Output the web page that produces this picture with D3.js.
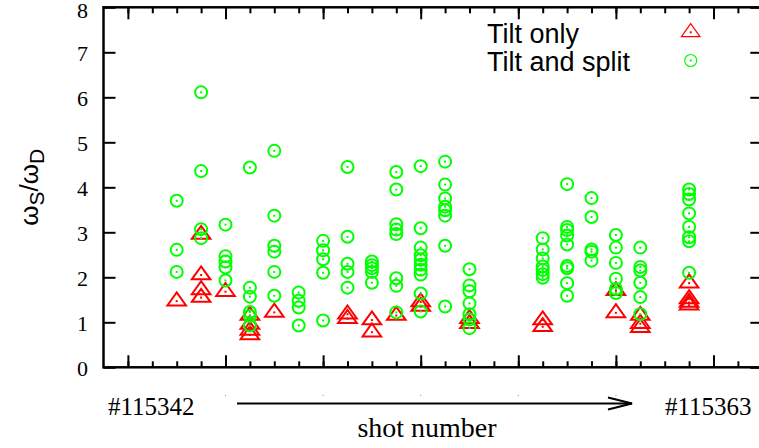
<!DOCTYPE html>
<html>
<head>
<meta charset="utf-8">
<script src="https://cdn.jsdelivr.net/npm/d3@7"></script>
<style>
  body { margin: 0; background: #fff; }
  svg { display: block; }
</style>
</head>
<body>
<svg width="759" height="448"></svg>
<script>
// Shots that have data, and the measured frequency ratios for each one
const shots = [115342, 115343, 115344, 115345, 115346, 115347, 115348, 115349, 115350,
  115351, 115352, 115353, 115354, 115357, 115358, 115359, 115360, 115361, 115363];

const tiltOnly = [
  [1.47], [2.95, 2.05, 1.72, 1.55], [1.68], [1.15, 0.95, 0.82, 0.72], [1.22], [], [],
  [1.18, 1.08], [1.05, 0.78], [1.15], [1.45, 1.35], [], [1.08, 0.97],
  [1.05, 0.9], [], [], [1.7, 1.21], [1.15, 0.97, 0.88], [1.87, 1.52, 1.44, 1.38]
];

const tiltSplit = [
  [3.70, 2.61, 2.12],
  [6.11, 4.36, 3.07, 2.87],
  [3.17, 2.47, 2.35, 2.22, 1.93],
  [4.44, 1.77, 1.57, 1.23, 1.14, 0.93],
  [4.81, 3.37, 2.70, 2.57, 2.12, 1.59],
  [1.66, 1.48, 1.33, 0.93],
  [2.81, 2.60, 2.40, 2.10, 1.04],
  [4.45, 2.90, 2.30, 2.12, 1.77],
  [2.35, 2.27, 2.20, 2.12, 1.88],
  [4.34, 3.95, 3.18, 3.06, 2.96, 1.98, 1.81, 1.22],
  [4.47, 3.09, 2.66, 2.49, 2.39, 2.28, 2.17, 2.06, 1.64, 1.24],
  [4.57, 4.06, 3.75, 3.57, 3.49, 3.37, 2.70, 1.35],
  [2.18, 1.82, 1.69, 1.42, 1.18, 1.06, 0.87],
  [2.87, 2.62, 2.42, 2.24, 2.16, 2.07, 1.99],
  [4.07, 3.12, 3.05, 2.93, 2.73, 2.25, 2.20, 1.87, 1.59],
  [3.76, 3.34, 2.62, 2.57, 2.37],
  [2.94, 2.66, 2.32, 1.97, 1.74, 1.65],
  [2.66, 2.23, 2.15, 1.88, 1.56, 1.18],
  [3.95, 3.85, 3.73, 3.42, 3.12, 2.89, 2.80, 2.10]
];

const yTicks = [0, 1, 2, 3, 4, 5, 6, 7, 8];
const seriesNames = ["Tilt only", "Tilt and split"];
const firstLabel = "#115342";
const lastLabel = "#115363";

// Layout
const svg = d3.select("svg");
const margin = { top: 7.3, left: 103.5 };
const width = 658.8;   // right border falls just outside the window
const height = 360;

const g = svg.append("g").attr("transform", `translate(${margin.left},${margin.top})`);

// x runs 3 shots before the first one to 3 after the last
const x = d3.scaleLinear().domain([115339, 115366]).range([0, width]);
const y = d3.scaleLinear().domain([0, 8]).range([height, 0]);

const minorTicks = d3.range(115340, 115366);
const majorTicks = d3.range(115340, 115366, 4);

const serif = "'Liberation Serif', 'Times New Roman', serif";
const sans = "'Liberation Sans', Arial, sans-serif";

// Ticks pointing inwards on all four sides
function styleAxis(sel) {
  sel.select(".domain").remove();
  sel.selectAll(".tick line").attr("stroke", "#000").attr("stroke-width", 2);
}

g.append("g").attr("transform", `translate(0,${height})`)
  .call(d3.axisBottom(x).tickValues(minorTicks).tickSize(-6).tickFormat(""))
  .call(styleAxis);
g.append("g").attr("transform", `translate(0,${height})`)
  .call(d3.axisBottom(x).tickValues(majorTicks).tickSize(-12).tickFormat(""))
  .call(styleAxis);
g.append("g")
  .call(d3.axisTop(x).tickValues(minorTicks).tickSize(-6).tickFormat(""))
  .call(styleAxis);
g.append("g")
  .call(d3.axisTop(x).tickValues(majorTicks).tickSize(-12).tickFormat(""))
  .call(styleAxis);
g.append("g").attr("transform", `translate(${width},0)`)
  .call(d3.axisRight(y).tickValues(yTicks).tickSize(-12).tickFormat(""))
  .call(styleAxis);

const yAxis = g.append("g")
  .call(d3.axisLeft(y).tickValues(yTicks).tickSize(-12).tickPadding(15.5).tickFormat(d3.format("d")))
  .call(styleAxis);
yAxis.selectAll(".tick text")
  .attr("dy", d => d === 8 ? "0.46em" : "0.38em")   // keep the top label inside the window
  .style("font-family", serif)
  .style("font-size", "22px")
  .attr("fill", "#000");

// Border
g.append("rect")
  .attr("width", width).attr("height", height)
  .attr("fill", "none").attr("stroke", "#000").attr("stroke-width", 2.5);

// Faint dots left under the middle major ticks
g.selectAll(".tickdot")
  .data(majorTicks.slice(1, -1))
  .enter().append("rect")
  .attr("class", "tickdot")
  .attr("x", d => x(d) - 0.5).attr("y", height + 27.5)
  .attr("width", 1).attr("height", 1).attr("fill", "#888");

// Flatten data into points
const triPts = [], circPts = [];
shots.forEach((s, k) => {
  tiltOnly[k].forEach(v => triPts.push({ shot: s, v }));
  tiltSplit[k].forEach(v => circPts.push({ shot: s, v }));
});

const triPath = "M0,-8.7L9.3,4.3L-9.3,4.3Z";
const red = "#ff0000", green = "#00ff00";

function drawTriangle(sel, sw) {
  sel.append("path").attr("d", triPath)
    .attr("fill", "none").attr("stroke", red).attr("stroke-width", sw);
  sel.append("rect").attr("x", -1).attr("y", -1).attr("width", 2).attr("height", 2).attr("fill", red);
}
function drawCircle(sel, sw) {
  sel.append("circle").attr("r", 6)
    .attr("fill", "none").attr("stroke", green).attr("stroke-width", sw);
  sel.append("rect").attr("x", -1).attr("y", -1).attr("width", 2).attr("height", 2).attr("fill", green);
}

g.selectAll(".tri").data(triPts).enter().append("g")
  .attr("class", "tri")
  .attr("transform", d => `translate(${x(d.shot)},${y(d.v)})`)
  .call(drawTriangle, 2);

g.selectAll(".circ").data(circPts).enter().append("g")
  .attr("class", "circ")
  .attr("transform", d => `translate(${x(d.shot)},${y(d.v)})`)
  .call(drawCircle, 2);

// Legend
const legend = svg.append("g");
seriesNames.forEach((name, k) => {
  const ly = 33 + k * 27.5;
  legend.append("text")
    .attr("x", 487).attr("y", ly + 10.3)
    .style("font-family", sans).style("font-size", "27px")
    .text(name);
  const m = legend.append("g").attr("transform", `translate(690.7,${ly - (k === 0 ? 0.7 : 0)})`);
  if (k === 0) m.call(drawTriangle, 1.2); else m.call(drawCircle, 1.2);
});

// Y axis title: omega_S / omega_D
const yt = svg.append("text")
  .attr("transform", `translate(38,${margin.top + height / 2}) rotate(-90)`)
  .attr("text-anchor", "middle")
  .style("font-family", sans).style("font-size", "26px");
yt.append("tspan").text("ω");
yt.append("tspan").attr("dy", 6).style("font-size", "21px").text("S");
yt.append("tspan").attr("dy", -6).text("/ω");
yt.append("tspan").attr("dy", 6).style("font-size", "21px").text("D");

// X axis annotation: first shot, arrow, last shot
svg.append("text").attr("x", 108).attr("y", 415)
  .style("font-family", serif).style("font-size", "25px").text(firstLabel);
svg.append("text").attr("x", 665).attr("y", 415)
  .style("font-family", serif).style("font-size", "25px").text(lastLabel);

svg.append("line")
  .attr("x1", 237).attr("x2", 632).attr("y1", 403.5).attr("y2", 403.5)
  .attr("stroke", "#000").attr("stroke-width", 2);
svg.append("path")
  .attr("d", "M608,397.5L632,403.5L608,409.5")
  .attr("fill", "none").attr("stroke", "#000").attr("stroke-width", 2);

svg.append("text")
  .attr("x", 427).attr("y", 437)
  .attr("text-anchor", "middle")
  .style("font-family", serif).style("font-size", "28px")
  .text("shot number");
</script>
</body>
</html>
